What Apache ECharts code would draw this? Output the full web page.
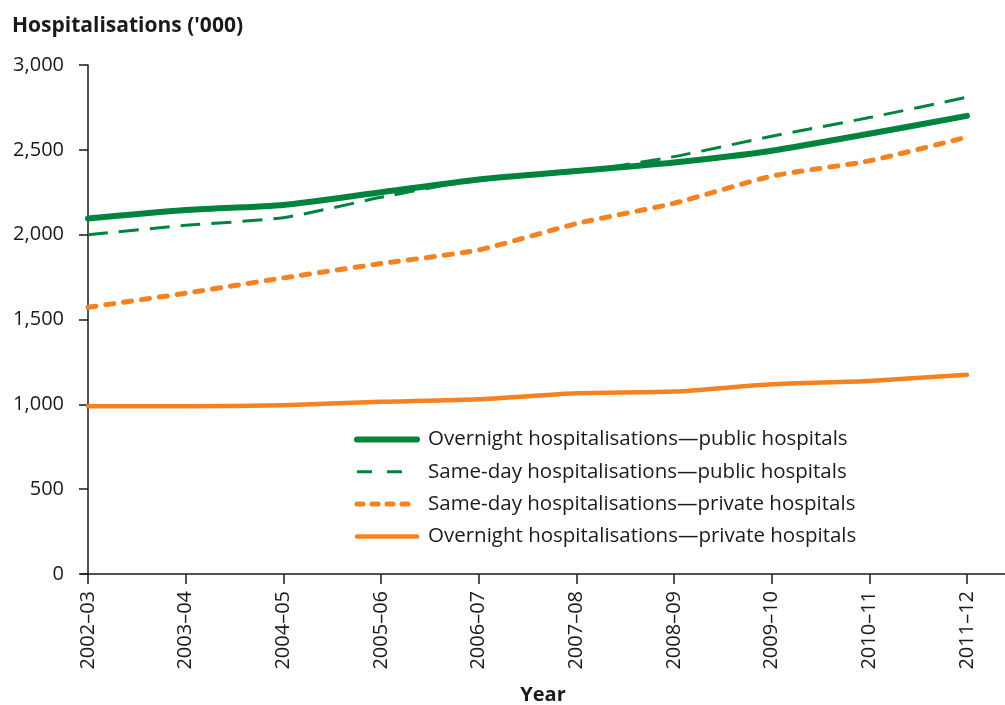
<!DOCTYPE html>
<html>
<head>
<meta charset="utf-8">
<script src="https://cdn.jsdelivr.net/npm/echarts@6/dist/echarts.min.js"></script>
<style>
  html, body { margin: 0; padding: 0; background: #fff; }
  #chart { width: 1005px; height: 705px; }
</style>
</head>
<body>
<div id="chart"></div>
<script>
// Financial years on the horizontal axis
const years = ['2002–03', '2003–04', '2004–05', '2005–06', '2006–07',
               '2007–08', '2008–09', '2009–10', '2010–11', '2011–12'];

// Hospitalisations ('000) per year
const overnightPublic  = [2095, 2145, 2175, 2250, 2325, 2375, 2425, 2495, 2595, 2700];
const samedayPublic    = [2000, 2055, 2100, 2220, 2325, 2370, 2460, 2580, 2690, 2810];
const samedayPrivate   = [1572, 1655, 1745, 1830, 1910, 2065, 2185, 2345, 2435, 2575];
const overnightPrivate = [ 988,  988,  995, 1015, 1030, 1065, 1075, 1118, 1138, 1175];

const yTicks = [0, 500, 1000, 1500, 2000, 2500, 3000];

const GREEN = '#00843d';
const ORANGE = '#f58220';
const INK = '#1a1a1a';
const FONT = '"Open Sans", "Noto Sans", sans-serif';

const idx = years.map((_, i) => i);
const pairs = arr => arr.map((v, i) => [i, v]);

const chart = echarts.init(document.getElementById('chart'), null, { renderer: 'canvas' });

const names = [
  'Overnight hospitalisations—public hospitals',
  'Same-day hospitalisations—public hospitals',
  'Same-day hospitalisations—private hospitals',
  'Overnight hospitalisations—private hospitals'
];

chart.setOption({
  backgroundColor: '#fff',
  animation: false,
  textStyle: { fontFamily: FONT },
  title: {
    text: "Hospitalisations ('000)",
    left: 7,
    top: 11,
    textStyle: { fontFamily: FONT, fontWeight: 'bold', fontSize: 21, color: INK }
  },
  grid: { left: 81, right: 0, top: 65, bottom: 131, containLabel: false, outerBoundsMode: 'none' },
  xAxis: {
    type: 'value',
    min: -0.0717,
    max: 9.389,
    name: 'Year',
    nameLocation: 'middle',
    nameGap: 111,
    nameTextStyle: { fontFamily: FONT, fontWeight: 'bold', fontSize: 20, color: INK },
    axisLine: { show: true, lineStyle: { color: INK, width: 1.5 } },
    axisTick: { show: true, length: 10, inside: false, customValues: idx, lineStyle: { color: INK, width: 1.5 } },
    axisLabel: {
      customValues: idx,
      rotate: 90,
      margin: 17,
      fontSize: 20,
      color: INK,
      fontFamily: FONT,
      formatter: v => years[Math.round(v)]
    },
    splitLine: { show: false }
  },
  yAxis: {
    type: 'value',
    min: 0,
    max: 3000,
    interval: 500,
    axisLine: { show: true, lineStyle: { color: INK, width: 1.5 } },
    axisTick: { show: true, length: 9, inside: false, lineStyle: { color: INK, width: 1.5 } },
    axisLabel: {
      margin: 17,
      fontSize: 20,
      color: INK,
      fontFamily: FONT,
      formatter: v => yTicks.includes(v) ? v.toLocaleString('en-US') : ''
    },
    splitLine: { show: false }
  },
  legend: {
    orient: 'vertical',
    left: 349,
    top: 424,
    itemWidth: 60,
    itemHeight: 14,
    itemGap: 11.3,
    itemStyle: { opacity: 0 },
    textStyle: { fontFamily: FONT, fontSize: 20.5, color: INK, lineHeight: 20, padding: [0, 0, 0, 6] },
    data: [
      { name: names[0], lineStyle: { width: 6, cap: 'round' } },
      { name: names[1], lineStyle: { width: 3, type: [15, 15], cap: 'butt' } },
      { name: names[2], lineStyle: { width: 5, type: [6, 9], cap: 'round' } },
      { name: names[3], lineStyle: { width: 4.5, cap: 'round' } }
    ]
  },
  series: [
    {
      name: names[0], type: 'line', data: pairs(overnightPublic),
      symbol: 'none', smooth: 0.2,
      lineStyle: { color: GREEN, width: 6, cap: 'round', join: 'round' },
      itemStyle: { color: GREEN }
    },
    {
      name: names[1], type: 'line', data: pairs(samedayPublic),
      symbol: 'none', smooth: 0.2,
      lineStyle: { color: GREEN, width: 3, type: [20, 11], cap: 'butt', join: 'round' },
      itemStyle: { color: GREEN }
    },
    {
      name: names[2], type: 'line', data: pairs(samedayPrivate),
      symbol: 'none', smooth: 0.2,
      lineStyle: { color: ORANGE, width: 5, type: [8, 10], cap: 'round', join: 'round' },
      itemStyle: { color: ORANGE }
    },
    {
      name: names[3], type: 'line', data: pairs(overnightPrivate),
      symbol: 'none', smooth: 0.2,
      lineStyle: { color: ORANGE, width: 4.5, cap: 'round', join: 'round' },
      itemStyle: { color: ORANGE }
    }
  ]
});
</script>
</body>
</html>
